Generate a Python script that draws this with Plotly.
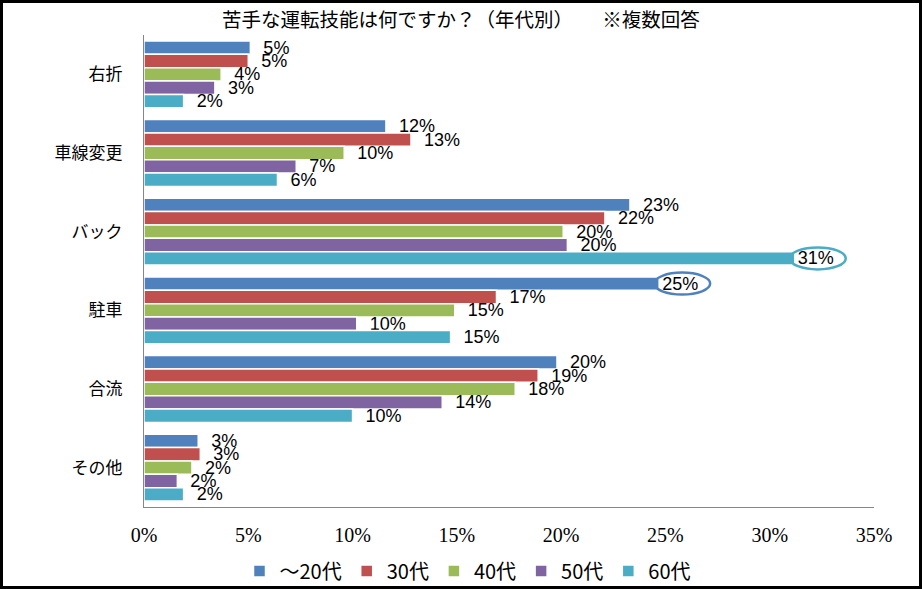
import plotly.graph_objects as go

categories = ["右折", "車線変更", "バック", "駐車", "合流", "その他"]
series_names = ["～20代", "30代", "40代", "50代", "60代"]
colors = ["#4F81BD", "#C0504D", "#9BBB59", "#8064A2", "#4BACC6"]

v_20 = [0.051, 0.116, 0.233, 0.247, 0.198, 0.026]
v_30 = [0.050, 0.128, 0.221, 0.169, 0.189, 0.027]
v_40 = [0.037, 0.096, 0.201, 0.149, 0.178, 0.023]
v_50 = [0.034, 0.073, 0.203, 0.102, 0.143, 0.016]
v_60 = [0.019, 0.064, 0.312, 0.147, 0.100, 0.019]
series_values = [v_20, v_30, v_40, v_50, v_60]

# highlighted (circled) labels: (series index, category index)
highlights = [(4, 2), (0, 3)]

x_ticks = [0, 0.05, 0.10, 0.15, 0.20, 0.25, 0.30, 0.35]

W, H = 922, 589
ML, MR, MT, MB = 144, 48, 35, 82
PW, PH = W - ML - MR, H - MT - MB
BARGAP = 0.15

fig = go.Figure()
ypos = list(range(len(categories)))
for k, (name, vals, col) in enumerate(zip(series_names, series_values, colors)):
    tmpl = []
    for i in range(len(vals)):
        if (k, i) in highlights:
            tmpl.append("%{x:.0%}")
        else:
            tmpl.append("\u00a0\u00a0%{x:.0%}")
    fig.add_trace(go.Bar(
        name=name, y=ypos, x=vals, orientation="h",
        marker=dict(color=col, line=dict(color="white", width=1.5)),
        texttemplate=tmpl, textposition="outside", cliponaxis=False,
        constraintext="none", textangle=0,
        textfont=dict(family="Liberation Sans, Arial", size=18, color="black"),
        hoverinfo="skip",
    ))

n = len(series_names)
w = (1 - BARGAP) / n
shapes = []
for k, i in highlights:
    off = -(1 - BARGAP) / 2 + w * (k + 0.5)
    shapes.append(dict(
        type="circle", xref="x", yref="y",
        xsizemode="pixel", ysizemode="pixel",
        xanchor=series_values[k][i], yanchor=i + off,
        x0=-5, x1=51, y0=-11, y1=11,
        line=dict(color=colors[k], width=2.5), fillcolor="rgba(0,0,0,0)",
    ))

# outer chart border
shapes.append(dict(
    type="rect", xref="paper", yref="paper",
    x0=(1.5 - ML) / PW, x1=(W - 1.5 - ML) / PW,
    y0=(PH + MT - (H - 1.5)) / PH, y1=(PH + MT - 1.5) / PH,
    line=dict(color="black", width=3), fillcolor="rgba(0,0,0,0)", layer="above",
))

fig.update_layout(
    width=W, height=H,
    margin=dict(l=ML, r=MR, t=MT, b=MB, autoexpand=False),
    paper_bgcolor="white", plot_bgcolor="white",
    barmode="group", bargap=BARGAP, bargroupgap=0,
    title=dict(text="苦手な運転技能は何ですか？（年代別）　　※複数回答",
               x=0.5, xref="container", xanchor="center",
               y=1 - 20 / H, yref="container", yanchor="middle",
               font=dict(family="Noto Sans CJK JP", size=19.5, color="black")),
    xaxis=dict(range=[0, 0.35], tickvals=x_ticks, tickformat=".0%",
               showgrid=False, zeroline=False, showline=True, linecolor="#868686",
               linewidth=1, ticks="", ticklabelstandoff=10,
               tickfont=dict(family="Liberation Serif, DejaVu Serif", size=20, color="black")),
    yaxis=dict(range=[len(categories) - 0.5, -0.5], tickvals=ypos, ticktext=categories,
               showgrid=False, zeroline=False, showline=True, linecolor="#868686",
               linewidth=1, ticks="", ticklabelstandoff=17,
               tickfont=dict(family="Noto Sans CJK JP", size=17, color="black")),
    legend=dict(orientation="h", x=(468 - ML) / PW, xanchor="center",
                y=(PH + MT - 571) / PH, yanchor="middle",
                font=dict(family="Noto Sans CJK JP", size=20, color="black"),
                itemwidth=30, bgcolor="rgba(0,0,0,0)"),
    shapes=shapes,
    showlegend=True,
)

fig.write_html("out.html")
